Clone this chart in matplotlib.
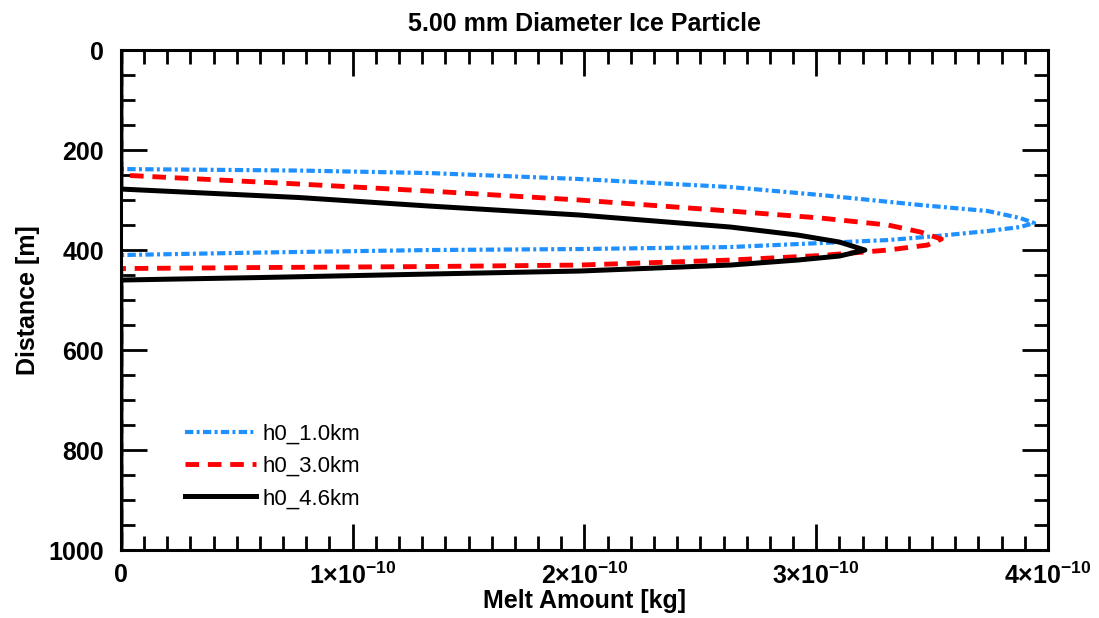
import numpy as np
import matplotlib
matplotlib.use("Agg")
import matplotlib.pyplot as plt
from matplotlib.ticker import MultipleLocator, FuncFormatter

plt.rcParams['font.family'] = ['Liberation Sans', 'DejaVu Sans']
plt.rcParams['mathtext.fontset'] = 'custom'
plt.rcParams['mathtext.bf'] = 'Liberation Sans:bold'
plt.rcParams['mathtext.rm'] = 'Liberation Sans'

# melt amount in units of 1e-10 kg, distance in m
melt_1km = [0, 0, 0.77, 1.33, 1.98, 2.63, 3.02, 3.45, 3.74, 3.88, 3.94,
            3.88, 3.74, 3.52, 3.31, 3.02, 2.63, 1.98, 1.33, 0.60, 0, 0]
dist_1km = [0, 238, 241, 246, 258, 274, 290, 310, 322, 336, 346,
            354, 362, 372, 380, 386, 394, 398, 400, 405, 410, 1000]

melt_3km = [0, 0, 0.77, 1.33, 1.98, 2.63, 3.02, 3.31, 3.45, 3.54,
            3.48, 3.31, 3.02, 2.63, 1.98, 1.33, 0.60, 0, 0]
dist_3km = [0, 250, 268, 282, 300, 322, 336, 350, 364, 378,
            390, 400, 411, 420, 430, 433, 435, 437, 1000]

melt_46km = [0, 0, 0.77, 1.33, 1.98, 2.63, 2.92, 3.10, 3.21,
             3.10, 2.92, 2.63, 1.98, 1.33, 0.60, 0, 0]
dist_46km = [0, 278, 295, 312, 330, 354, 370, 384, 400,
             412, 420, 430, 442, 448, 455, 460, 1000]

labels = ["h0_1.0km", "h0_3.0km", "h0_4.6km"]

fig = plt.figure(figsize=(10.99, 6.18), dpi=100)
ax = fig.add_axes([0.110, 0.110, 0.8436, 0.809])

ax.plot(np.array(melt_1km) * 1e-10, dist_1km, color='#1E90FF', lw=3.0,
        linestyle=(0, (2.0, 0.8, 0.7, 0.8)), label=labels[0])
ax.plot(np.array(melt_3km) * 1e-10, dist_3km, color='#FF0000', lw=3.5,
        linestyle=(0, (2.8, 1.8)), label=labels[1])
ax.plot(np.array(melt_46km) * 1e-10, dist_46km, color='black', lw=3.6,
        linestyle='-', label=labels[2])

ax.set_xlim(0, 4e-10)
ax.set_ylim(1000, 0)

ax.xaxis.set_major_locator(MultipleLocator(1e-10))
ax.xaxis.set_minor_locator(MultipleLocator(1e-11))
ax.yaxis.set_major_locator(MultipleLocator(200))
ax.yaxis.set_minor_locator(MultipleLocator(50))


def sci_fmt(x, pos):
    if abs(x) < 1e-20:
        return r'$\mathbf{0}$'
    m = int(round(x / 1e-10))
    return r'$\mathbf{%d{\times}10^{-10}}$' % m


ax.xaxis.set_major_formatter(FuncFormatter(sci_fmt))

ax.tick_params(which='both', direction='in', top=True, right=True, width=2.0)
ax.tick_params(which='major', length=19, labelsize=18)
ax.tick_params(axis='x', which='major', pad=9)
ax.tick_params(axis='y', which='major', pad=12)
ax.tick_params(which='minor', length=10)
for lab in ax.get_yticklabels():
    lab.set_fontweight('bold')
for s in ax.spines.values():
    s.set_linewidth(2.2)

ax.set_title("5.00 mm Diameter Ice Particle", fontsize=18, fontweight='bold', pad=14)
ax.set_xlabel("Melt Amount [kg]", fontsize=18, fontweight='bold', labelpad=0)
ax.set_ylabel("Distance [m]", fontsize=18, fontweight='bold', labelpad=6)

ax.legend(loc='upper left', bbox_to_anchor=(0.069, 0.252), frameon=False,
          fontsize=16, handlelength=3.2, handletextpad=0.3, labelspacing=0.5,
          borderpad=0, borderaxespad=0)

fig.savefig("out.png", dpi=100)
